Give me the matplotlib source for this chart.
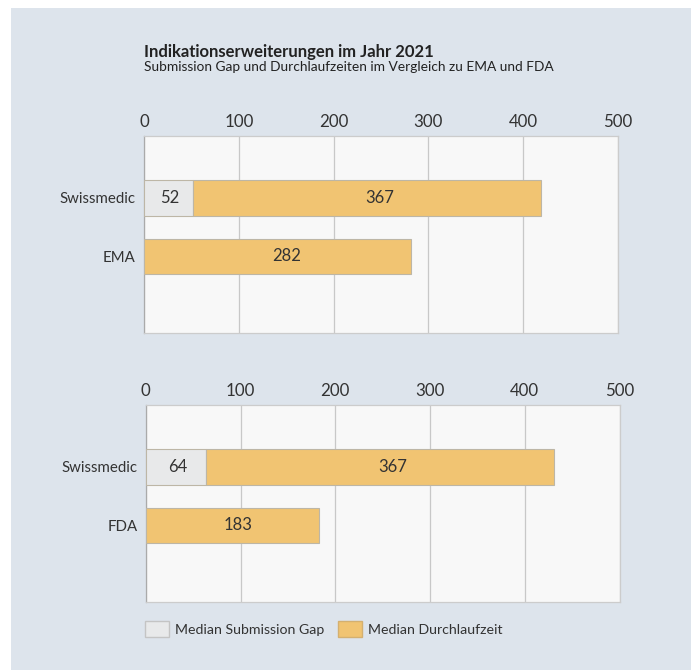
import matplotlib.pyplot as plt
from matplotlib.patches import Patch

plt.rcParams['font.family'] = ['Lato', 'DejaVu Sans']

# data
ticks = [0, 100, 200, 300, 400, 500]
top_labels = ["Swissmedic", "EMA"]
top_gap = [52, 0]
top_dlz = [367, 282]
bot_labels = ["Swissmedic", "FDA"]
bot_gap = [64, 0]
bot_dlz = [367, 183]
legend_labels = ["Median Submission Gap", "Median Durchlaufzeit"]

gap_color = '#e8e9ea'
dlz_color = '#f1c472'
edge_color = '#bdb6a6'
panel_color = '#dde4ec'
text_color = '#333333'

fig = plt.figure(figsize=(6.91, 6.70), dpi=100)
fig.patch.set_facecolor('white')
fig.patches.append(plt.Rectangle((11 / 691, 0), 1, 1 - 8 / 670, transform=fig.transFigure,
                                 facecolor=panel_color, edgecolor='none', zorder=-10))

fig.text(144 / 691, 1 - 57 / 670, "Indikationserweiterungen im Jahr 2021", fontsize=12,
         fontweight='bold', color='#222222', va='baseline')
fig.text(144 / 691, 1 - 71 / 670, "Submission Gap und Durchlaufzeiten im Vergleich zu EMA und FDA",
         fontsize=9.95, color='#222222', va='baseline')


def draw(ax, labels, gap, dlz):
    ax.set_facecolor('#f8f8f8')
    y = list(range(len(labels)))
    ax.barh(y, gap, height=0.6, color=gap_color, edgecolor=edge_color, linewidth=0.8, zorder=3)
    ax.barh(y, dlz, left=gap, height=0.6, color=dlz_color, edgecolor=edge_color, linewidth=0.8, zorder=3)
    for i in y:
        # labels sit slightly right of the segment middle, like the original
        if gap[i] > 0:
            ax.text(gap[i] * 0.53, i, str(gap[i]), ha='center', va='center', fontsize=12, color=text_color, zorder=4)
        ax.text(gap[i] + dlz[i] * 0.535, i, str(dlz[i]), ha='center', va='center', fontsize=12, color=text_color, zorder=4)
    ax.set_xlim(0, 500)
    ax.set_ylim(2.31, -1.06)
    ax.set_xticks(ticks)
    ax.set_yticks(y)
    ax.set_yticklabels(labels)
    ax.xaxis.tick_top()
    ax.tick_params(axis='x', length=0, pad=4, labelsize=12.2, labelcolor=text_color)
    ax.tick_params(axis='y', length=0, pad=6, labelsize=10.8, labelcolor=text_color)
    ax.grid(axis='x', color='#c8c8c8', linewidth=0.9, zorder=0)
    for s in ax.spines.values():
        s.set_color('#cccccc')
        s.set_linewidth(0.9)
    ax.spines['left'].set_color('#aaaaaa')


ax1 = fig.add_axes([144 / 691, 1 - 333 / 670, 474 / 691, 197 / 670])
draw(ax1, top_labels, top_gap, top_dlz)
ax2 = fig.add_axes([145.7 / 691, 1 - 602 / 670, 474 / 691, 197 / 670])
draw(ax2, bot_labels, bot_gap, bot_dlz)

handles = [Patch(facecolor=gap_color, edgecolor='#c4c4c4'),
           Patch(facecolor=dlz_color, edgecolor='#d4b070')]
fig.legend(handles, legend_labels, loc='center left', bbox_to_anchor=(145 / 691, 1 - 629 / 670),
           ncol=2, frameon=False, fontsize=10.2, handlelength=1.7, handleheight=1.35,
           handletextpad=0.4, columnspacing=1.0, borderpad=0, borderaxespad=0, labelcolor=text_color)

fig.savefig('out.png', dpi=100)
